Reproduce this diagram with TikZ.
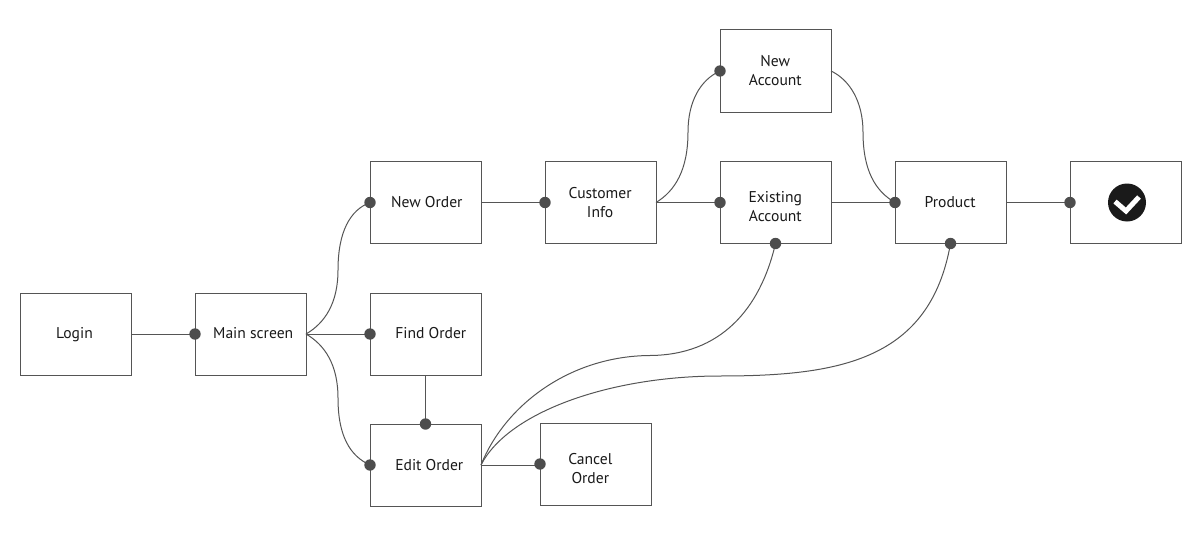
\documentclass[tikz,border=0pt]{standalone}
\usepackage{fontspec}
\setmainfont{PT Sans}
\definecolor{linegray}{HTML}{555555}
\definecolor{dotgray}{HTML}{4D4D4D}
\definecolor{iconblack}{HTML}{1A1A1A}
\tikzset{
  boxnode/.style={draw=linegray,line width=1pt,fill=white,minimum width=111pt,minimum height=82pt,inner sep=0pt,outer sep=0pt},
  textlabel/.style={inner sep=0pt,align=center,font=\fontsize{15.6}{19}\selectfont,text=black!90},
  link/.style={draw=linegray,line width=1pt},
  dot/.style={fill=dotgray}
}
\begin{document}
\begin{tikzpicture}[x=1pt,y=-1pt]
\useasboundingbox (0,0) rectangle (1200,551);
\node[boxnode] (login) at (75.5,334) {};
\node[boxnode] (main) at (250.5,334) {};
\node[boxnode] (neworder) at (425.5,202.5) {};
\node[boxnode] (find) at (425.5,334) {};
\node[boxnode] (edit) at (425.5,465) {};
\node[boxnode] (cancel) at (595.5,464) {};
\node[boxnode] (customer) at (600.5,202.5) {};
\node[boxnode] (existing) at (775.5,202.5) {};
\node[boxnode] (newacct) at (775.5,71) {};
\node[boxnode] (product) at (950.5,202.5) {};
\node[boxnode] (done) at (1125.5,202.5) {};
\node[textlabel,xshift=-1pt,yshift=-0.5pt] (loginT) at (login) {Login};
\node[textlabel,xshift=2.7pt,yshift=0.8pt] (mainT) at (main) {Main screen};
\node[textlabel,xshift=1.3pt] (neworderT) at (neworder) {New Order};
\node[textlabel,xshift=5.3pt,yshift=0.8pt] (findT) at (find) {Find Order};
\node[textlabel,xshift=3.8pt,yshift=0.3pt] (editT) at (edit) {Edit Order};
\node[textlabel,xshift=-5.2pt,yshift=-4.5pt] (cancelT) at (cancel) {Cancel\\Order};
\node[textlabel,xshift=-0.4pt] (customerT) at (customer) {Customer\\Info};
\node[textlabel,xshift=-0.2pt,yshift=-4pt] (existingT) at (existing) {Existing\\Account};
\node[textlabel,xshift=-0.2pt] (newacctT) at (newacct) {New\\Account};
\node[textlabel,xshift=-0.3pt] (productT) at (product) {Product};
\node[circle,fill=iconblack,minimum size=38pt,inner sep=0pt] (icon) at (1127,202.5) {};
\draw[white,line width=5pt] (icon.center) ++(-12,-1) -- ++(11,9.5) -- ++(13,-14);

\draw[link] (login.east) -- (main.west);
\draw[link] (main.east) .. controls (325,323) and (338,303) .. (338,270) .. controls (338,232) and (350,210) .. (neworder.west);
\draw[link] (main.east) -- (find.west);
\draw[link] (main.east) .. controls (325,345) and (338,365) .. (338,398) .. controls (338,436) and (350,456) .. (edit.west);
\draw[link] (find.south) -- (edit.north);
\draw[link] (edit.east) -- (cancel.west |- edit.east);
\draw[link] (neworder.east) -- (customer.west);
\draw[link] (customer.east) -- (existing.west);
\draw[link] (customer.east) .. controls (675,191) and (688,170) .. (688,132) .. controls (688,102) and (700,80) .. (newacct.west);
\draw[link] (existing.east) -- (product.west);
\draw[link] (newacct.east) .. controls (850,80) and (863,102) .. (863,132) .. controls (863,170) and (875,191) .. (product.west);
\draw[link] (product.east) -- (done.west);
\draw[link] (edit.east) .. controls (505,405) and (570,356) .. (650,355.5) .. controls (720,355) and (760,310) .. (existing.south);
\draw[link] (edit.east) .. controls (508,412) and (610,376) .. (720,376) .. controls (840,376) and (930,360) .. (product.south);

\foreach \p in {main.west,neworder.west,find.west,edit.west,edit.north,customer.west,existing.west,newacct.west,product.west,done.west,existing.south,product.south,cancel.west}
  \fill[dot] (\p) circle (5.7pt);
\end{tikzpicture}
\end{document}
